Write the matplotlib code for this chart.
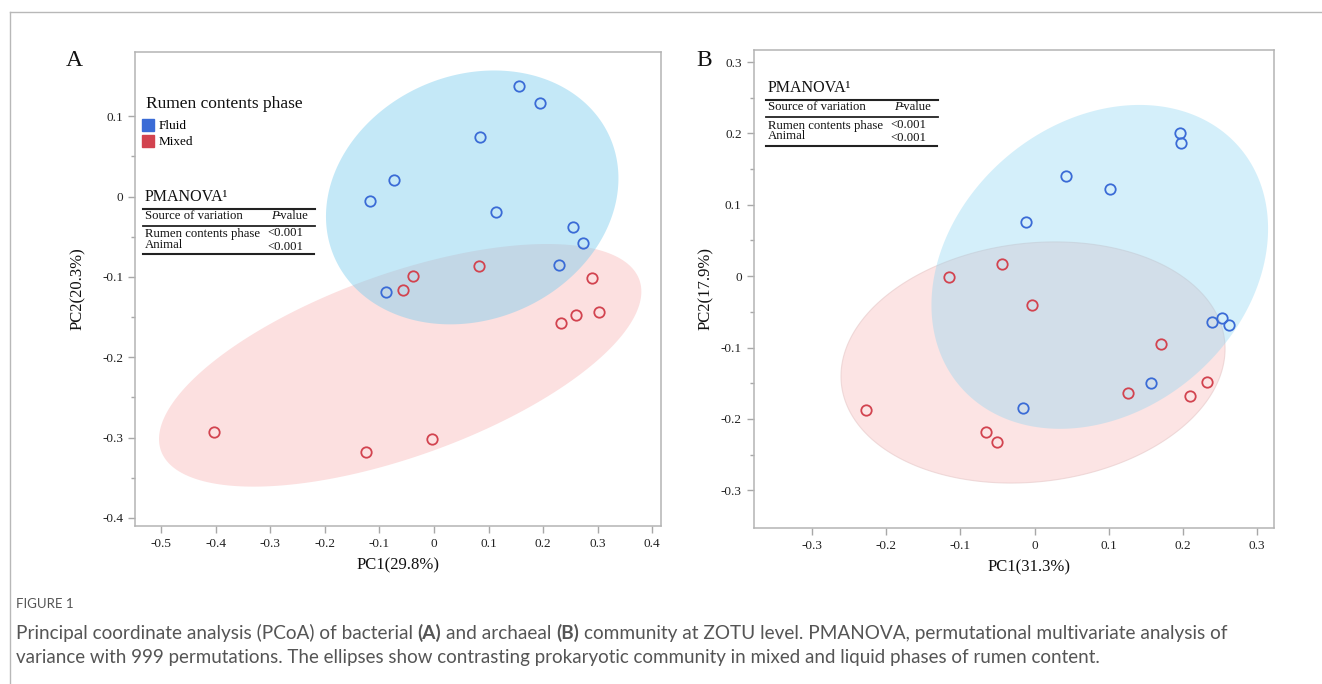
import numpy as np
import matplotlib
matplotlib.use('Agg')
import matplotlib.pyplot as plt
from matplotlib.lines import Line2D
from matplotlib.offsetbox import TextArea, HPacker, AnchoredOffsetbox

# ---- data ----
# panel A: bacterial community
a_fluid_pc1 = [0.156, 0.195, 0.085, -0.073, -0.117, 0.114, 0.255, 0.273, 0.229, -0.088]
a_fluid_pc2 = [0.138, 0.117, 0.074, 0.021, -0.005, -0.019, -0.038, -0.058, -0.085, -0.119]
a_mixed_pc1 = [0.082, -0.039, -0.056, 0.289, 0.302, 0.260, 0.233, -0.404, -0.125, -0.003]
a_mixed_pc2 = [-0.086, -0.099, -0.116, -0.101, -0.144, -0.147, -0.157, -0.293, -0.318, -0.302]

# panel B: archaeal community
b_fluid_pc1 = [0.196, 0.197, 0.042, 0.102, -0.011, 0.240, 0.253, 0.262, 0.157, -0.016]
b_fluid_pc2 = [0.201, 0.187, 0.141, 0.122, 0.076, -0.064, -0.058, -0.069, -0.150, -0.185]
b_mixed_pc1 = [-0.115, -0.044, -0.003, 0.170, 0.126, 0.233, 0.210, -0.227, -0.066, -0.051]
b_mixed_pc2 = [-0.001, 0.017, -0.040, -0.095, -0.164, -0.148, -0.168, -0.187, -0.218, -0.233]

# ellipses: centre (pc1, pc2), half extent along pc1 / pc2, correlation
a_fluid_ell = {'center': (0.070, -0.001), 'extent': (0.268, 0.158), 'rho': 0.15}
a_mixed_ell = {'center': (-0.062, -0.210), 'extent': (0.442, 0.151), 'rho': 0.608}
b_fluid_ell = {'center': (0.088, 0.013), 'extent': (0.227, 0.227), 'rho': 0.236}
b_mixed_ell = {'center': (-0.002, -0.121), 'extent': (0.259, 0.169), 'rho': 0.114}

groups = ['Fluid', 'Mixed']
pmanova_rows = ['Rumen contents phase', 'Animal']
pmanova_p = ['<0.001', '<0.001']

a_xticks = [-0.5, -0.4, -0.3, -0.2, -0.1, 0, 0.1, 0.2, 0.3, 0.4]
a_yticks = [-0.4, -0.3, -0.2, -0.1, 0, 0.1]
b_xticks = [-0.3, -0.2, -0.1, 0, 0.1, 0.2, 0.3]
b_yticks = [-0.3, -0.2, -0.1, 0, 0.1, 0.2, 0.3]

caption = ["Principal coordinate analysis (PCoA) of bacterial", "(A)", "and archaeal", "(B)",
           "community at ZOTU level. PMANOVA, permutational multivariate analysis of"]
caption2 = ("variance with 999 permutations. The ellipses show contrasting prokaryotic "
            "community in mixed and liquid phases of rumen content.")

BLUE = '#3a6bd6'
RED = '#d2434f'
SERIF = 'Liberation Serif'

plt.rcParams['font.family'] = SERIF
plt.rcParams['axes.unicode_minus'] = False

W, H = 1322, 684
fig = plt.figure(figsize=(W / 100, H / 100), dpi=100)


def fx(x):
    return x / W


def fy(y):
    return 1 - y / H


def draw_ellipse(ax, ell, color, alpha, edge='none'):
    sx, sy = ell['extent']
    cov = np.array([[sx * sx, ell['rho'] * sx * sy], [ell['rho'] * sx * sy, sy * sy]])
    L = np.linalg.cholesky(cov)
    t = np.linspace(0, 2 * np.pi, 300)
    pts = (L @ np.vstack([np.cos(t), np.sin(t)])).T + np.array(ell['center'])
    ax.fill(pts[:, 0], pts[:, 1], facecolor=color, alpha=alpha, edgecolor=edge, lw=0.8, zorder=1)


def fmt(v, pos=None):
    if abs(v) < 1e-9:
        return '0'
    return '%.1f' % v


def style_axes(ax, xticks, yticks, xlim, ylim):
    ax.set_xlim(*xlim)
    ax.set_ylim(*ylim)
    ax.set_xticks(xticks)
    ax.set_yticks(yticks)
    ax.set_yticks(np.arange(yticks[0], yticks[-1] + 0.001, 0.05), minor=True)
    ax.xaxis.set_major_formatter(plt.FuncFormatter(fmt))
    ax.yaxis.set_major_formatter(plt.FuncFormatter(fmt))
    for s in ax.spines.values():
        s.set_color('#b4b4b4')
        s.set_linewidth(1.1)
    ax.tick_params(which='major', direction='out', length=5, width=1, color='#a8a8a8',
                   labelsize=9.5, labelcolor='#222222', pad=3.5)
    ax.tick_params(which='minor', direction='out', length=3, width=1, color='#a8a8a8')


def draw_pmanova(x0, y0):
    # x0, y0: pixel position of the table's left edge / title centre
    fig.text(fx(x0 + 2), fy(y0), 'PMANOVA\u00b9', fontsize=11.5, va='center', ha='left', color='#111')
    fig.add_artist(Line2D([fx(x0), fx(x0 + 172)], [fy(y0 + 11.5)] * 2, color='#222', lw=1.5))
    fig.text(fx(x0 + 2), fy(y0 + 19), 'Source of variation', fontsize=9.2, va='center', color='#111')
    fig.text(fx(x0 + 128), fy(y0 + 18.5), 'P', fontsize=9.2, va='center', style='italic', color='#111')
    fig.text(fx(x0 + 134), fy(y0 + 18.5), '-value', fontsize=9.2, va='center', color='#111')
    fig.add_artist(Line2D([fx(x0), fx(x0 + 172)], [fy(y0 + 28.5)] * 2, color='#222', lw=1.3))
    row_y = [y0 + 37.5, y0 + 48]
    p_y = [y0 + 36.5, y0 + 50]
    for lab, p, ry, py in zip(pmanova_rows, pmanova_p, row_y, p_y):
        fig.text(fx(x0 + 2), fy(ry), lab, fontsize=9.2, va='center', color='#111')
        fig.text(fx(x0 + 124), fy(py), p, fontsize=9.2, va='center', color='#111')
    fig.add_artist(Line2D([fx(x0), fx(x0 + 171)], [fy(y0 + 57.5)] * 2, color='#222', lw=1.5))


# ---- panel A ----
axA = fig.add_axes([fx(135), fy(526), 526 / W, 474 / H])
draw_ellipse(axA, a_mixed_ell, '#fbd3d3', 0.7)
draw_ellipse(axA, a_fluid_ell, '#7ccdee', 0.45)
axA.plot(a_fluid_pc1, a_fluid_pc2, 'o', mfc='none', mec=BLUE, mew=1.3, ms=7.5, zorder=3)
axA.plot(a_mixed_pc1, a_mixed_pc2, 'o', mfc='none', mec=RED, mew=1.3, ms=7.5, zorder=3)
style_axes(axA, a_xticks, a_yticks, (-0.548, 0.416), (-0.41, 0.18))
axA.set_xlabel('PC1(29.8%)', fontsize=12, color='#111')
axA.set_ylabel('PC2(20.3%)', fontsize=12, color='#111')
axA.xaxis.set_label_coords(0.5, -0.066)
axA.yaxis.set_label_coords(-0.094, 0.5)

handles = [Line2D([], [], marker='s', ls='none', color=BLUE, ms=8),
           Line2D([], [], marker='s', ls='none', color=RED, ms=8)]
fig.text(fx(146), fy(104), 'Rumen contents phase', fontsize=12.5, va='center', color='#111')
leg = axA.legend(handles, groups, loc='upper left',
                 bbox_to_anchor=(fx(143), fy(120)), bbox_transform=fig.transFigure,
                 frameon=False, fontsize=9.5, handlelength=0.8,
                 handletextpad=0.35, labelspacing=0.3, borderpad=0, borderaxespad=0)
fig.text(fx(66), fy(60), 'A', fontsize=17, va='center', ha='left', color='#111')
draw_pmanova(143, 197)

# ---- panel B ----
axB = fig.add_axes([fx(753.5), fy(528), 520.5 / W, 478 / H])
draw_ellipse(axB, b_mixed_ell, '#fbd3d3', 0.6, edge='#e6c8c8')
draw_ellipse(axB, b_fluid_ell, '#8fd6f2', 0.38)
axB.plot(b_fluid_pc1, b_fluid_pc2, 'o', mfc='none', mec=BLUE, mew=1.3, ms=7.5, zorder=3)
axB.plot(b_mixed_pc1, b_mixed_pc2, 'o', mfc='none', mec=RED, mew=1.3, ms=7.5, zorder=3)
style_axes(axB, b_xticks, b_yticks, (-0.379, 0.323), (-0.353, 0.317))
axB.set_xlabel('PC1(31.3%)', fontsize=12, color='#111')
axB.set_ylabel('PC2(17.9%)', fontsize=12, color='#111')
axB.xaxis.set_label_coords(0.53, -0.066)
axB.yaxis.set_label_coords(-0.076, 0.5)
fig.text(fx(696), fy(60), 'B', fontsize=17, va='center', ha='left', color='#111')
draw_pmanova(766, 88)

# ---- frame and caption ----
fig.add_artist(Line2D([fx(10), fx(W)], [fy(12)] * 2, color='#b8b8b8', lw=1))
fig.add_artist(Line2D([fx(10), fx(10)], [fy(12), fy(H)], color='#b8b8b8', lw=1))

CAP = 'Lato'
fig.text(fx(16), fy(604), 'FIGURE 1', fontsize=9.5, family=CAP, color='#555555', va='center')
parts = []
for i, s in enumerate(caption):
    parts.append(TextArea(s, textprops=dict(family=CAP, fontsize=13.7, color='#555555',
                                            weight='bold' if i in (1, 3) else 'normal')))
box = HPacker(children=parts, pad=0, sep=3.4, align='baseline')
anch = AnchoredOffsetbox(loc='center left', child=box, bbox_to_anchor=(fx(16), fy(633)),
                         bbox_transform=fig.transFigure, frameon=False, pad=0, borderpad=0)
fig.add_artist(anch)
fig.text(fx(16), fy(657), caption2, fontsize=13.5, family=CAP, color='#555555', va='center')

fig.savefig('out.png', dpi=100)
